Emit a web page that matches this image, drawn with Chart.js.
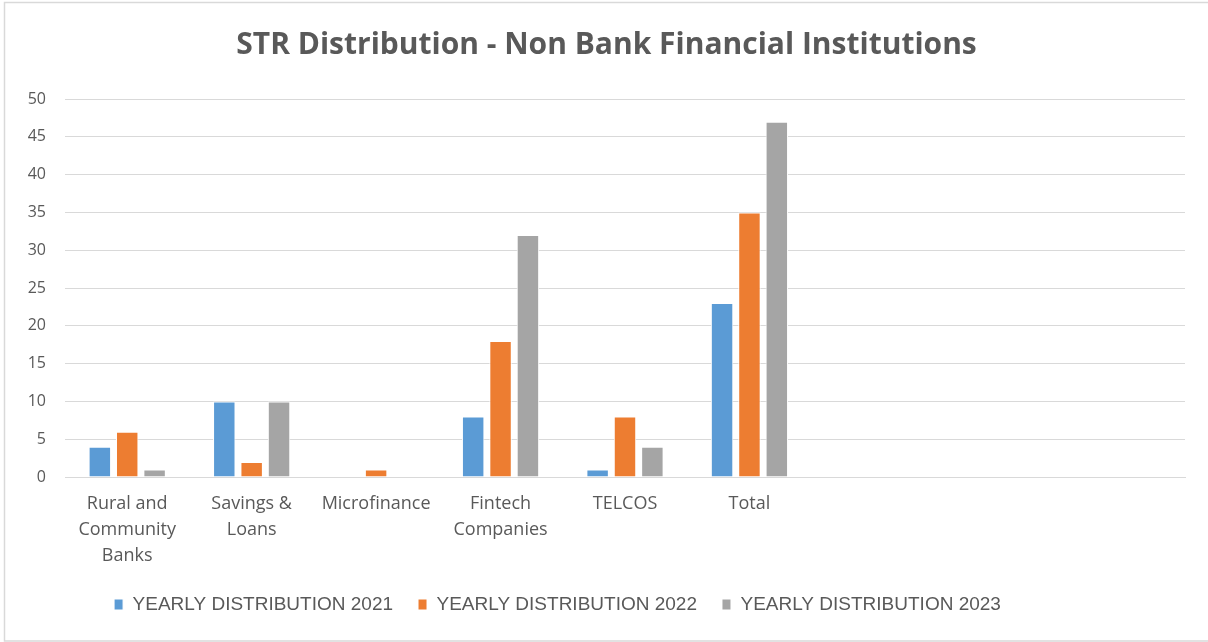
<!DOCTYPE html>
<html>
<head>
<meta charset="utf-8">
<script src="https://cdn.jsdelivr.net/npm/chart.js@4/dist/chart.umd.min.js"></script>
<style>
    html, body { margin: 0; padding: 0; background: #fff; }
    canvas { display: block; }
</style>
</head>
<body>
<canvas id="chart" width="1208" height="642"></canvas>
<script>
// institution types, empty slots keep the excel-like spacing on the right
const categories = [
    ['Rural and', 'Community', 'Banks'],
    ['Savings &', 'Loans'],
    'Microfinance',
    ['Fintech', 'Companies'],
    'TELCOS',
    'Total',
    '', '', ''
];

const values2021 = [4, 10, 0, 8, 1, 23];
const values2022 = [6, 2, 1, 18, 8, 35];
const values2023 = [1, 10, 0, 32, 4, 47];

const seriesLabels = ['YEARLY DISTRIBUTION 2021', 'YEARLY DISTRIBUTION 2022', 'YEARLY DISTRIBUTION 2023'];
const seriesColors = ['#5b9bd5', '#ed7d31', '#a5a5a5'];

const textColor = '#595959';
const gridColor = '#d9d9d9';

function dataset(label, data, color) {
    return {
        label: label,
        data: data,
        backgroundColor: color,
        borderColor: '#ffffff',
        borderWidth: 1,
        categoryPercentage: 0.66,
        barPercentage: 0.82
    };
}

// white background plus the thin frame
const framePlugin = {
    id: 'frame',
    beforeDraw(chart) {
        const ctx = chart.ctx;
        ctx.save();
        ctx.fillStyle = '#ffffff';
        ctx.fillRect(0, 0, chart.width, chart.height);
        ctx.strokeStyle = gridColor;
        ctx.lineWidth = 1.5;
        ctx.strokeRect(4.5, 2.5, chart.width + 10, chart.height - 3.5);
        ctx.restore();
    }
};

// nudge title and legend horizontally after layout
const blockShift = {
    id: 'blockShift',
    afterLayout(chart) {
        const legendOffset = -35;
        chart.legend.left += legendOffset;
        chart.legend.right += legendOffset;

        const titleOffset = 14;
        chart.titleBlock.left += titleOffset;
        chart.titleBlock.right += titleOffset;
    }
};

const config = {
    type: 'bar',
    data: {
        labels: categories,
        datasets: [
            dataset(seriesLabels[0], values2021, seriesColors[0]),
            dataset(seriesLabels[1], values2022, seriesColors[1]),
            dataset(seriesLabels[2], values2023, seriesColors[2])
        ]
    },
    options: {
        responsive: false,
        animation: false,
        layout: {
            padding: { left: 0, right: 23, top: 0, bottom: 18 }
        },
        plugins: {
            title: {
                display: true,
                text: 'STR Distribution - Non Bank Financial Institutions',
                color: textColor,
                font: { family: "'Open Sans'", size: 30, weight: 'bold' },
                padding: { top: 27, bottom: 36 }
            },
            legend: {
                position: 'bottom',
                labels: {
                    color: textColor,
                    font: { family: "'Liberation Sans', Arial", size: 19 },
                    boxWidth: 9,
                    boxHeight: 11,
                    padding: 25
                }
            },
            tooltip: { enabled: false }
        },
        scales: {
            x: {
                grid: { display: false, drawTicks: false },
                border: { display: true, color: gridColor, width: 1 },
                ticks: {
                    color: textColor,
                    font: { family: "'Open Sans'", size: 18, lineHeight: 1.45 },
                    padding: 14,
                    maxRotation: 0,
                    autoSkip: false
                },
                afterFit: (scale) => { scale.height = 93; }
            },
            y: {
                min: 0,
                max: 50,
                grid: { color: gridColor, lineWidth: 1, drawTicks: false },
                border: { display: false },
                ticks: {
                    stepSize: 5,
                    color: textColor,
                    font: { family: "'Open Sans'", size: 16 },
                    padding: 19
                },
                afterFit: (scale) => { scale.width = 65; }
            }
        }
    },
    plugins: [framePlugin, blockShift]
};

new Chart(document.getElementById('chart'), config);
</script>
</body>
</html>
